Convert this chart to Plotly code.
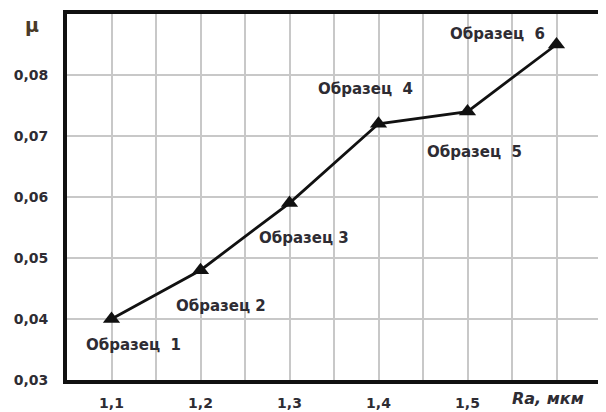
import plotly.graph_objects as go

ra = [1.1, 1.2, 1.3, 1.4, 1.5, 1.6]
mu = [0.040, 0.048, 0.059, 0.072, 0.074, 0.085]
labels = ["Образец  1", "Образец 2", "Образец 3", "Образец  4", "Образец  5", "Образец  6"]
label_x = [1.125, 1.223, 1.316, 1.385, 1.508, 1.534]
label_y = [0.0357, 0.0422, 0.0533, 0.0777, 0.0673, 0.0868]

x_grid = [1.1, 1.15, 1.2, 1.25, 1.3, 1.35, 1.4, 1.45, 1.5, 1.55, 1.6]
x_text = ["1,1", "", "1,2", "", "1,3", "", "1,4", "", "1,5", "", ""]
y_grid = [0.03, 0.04, 0.05, 0.06, 0.07, 0.08, 0.09]
y_text = ["0,03", "0,04", "0,05", "0,06", "0,07", "0,08", ""]

TXT = "#2e2c33"
FONT = "DejaVu Sans"

fig = go.Figure()
fig.add_trace(go.Scatter(
    x=ra, y=mu, mode="lines+markers",
    line=dict(color="#111111", width=2.8),
    marker=dict(symbol="triangle-up", size=15, color="#111111"),
    showlegend=False, hoverinfo="skip"))

for lx, ly, t in zip(label_x, label_y, labels):
    fig.add_annotation(x=lx, y=ly, text=t, showarrow=False,
                       xanchor="center", yanchor="middle",
                       font=dict(family=FONT, size=15, color=TXT, weight="bold"))

fig.add_annotation(xref="paper", yref="paper", x=-0.065, y=0.97,
                   text="μ", showarrow=False, xanchor="center", yanchor="middle",
                   font=dict(family=FONT, size=19, color="#4a3a28", weight="bold"))
fig.add_annotation(xref="paper", yref="paper", x=0.9, y=-0.05,
                   text="<i>Ra, мкм</i>", showarrow=False,
                   xanchor="center", yanchor="middle",
                   font=dict(family=FONT, size=16, color=TXT, weight="bold"))

fig.update_xaxes(range=[1.05, 1.65], tickvals=x_grid, ticktext=x_text,
                 showgrid=True, gridcolor="#c8c8c8", gridwidth=1.8,
                 showline=True, linecolor="#111111", linewidth=4, mirror=True,
                 ticks="outside", ticklen=7, tickcolor="rgba(0,0,0,0)",
                 tickfont=dict(family=FONT, size=14, color=TXT, weight="bold"),
                 zeroline=False)
fig.update_yaxes(range=[0.03, 0.09], tickvals=y_grid, ticktext=y_text,
                 showgrid=True, gridcolor="#c8c8c8", gridwidth=1.8,
                 showline=True, linecolor="#111111", linewidth=4, mirror=True,
                 ticks="outside", ticklen=12, tickcolor="rgba(0,0,0,0)",
                 tickfont=dict(family=FONT, size=14, color=TXT, weight="bold"),
                 zeroline=False)

fig.update_layout(width=598, height=404,
                  margin=dict(l=59, r=1, t=6, b=29),
                  paper_bgcolor="white", plot_bgcolor="white",
                  font=dict(family=FONT))

fig.write_html("out.html")
